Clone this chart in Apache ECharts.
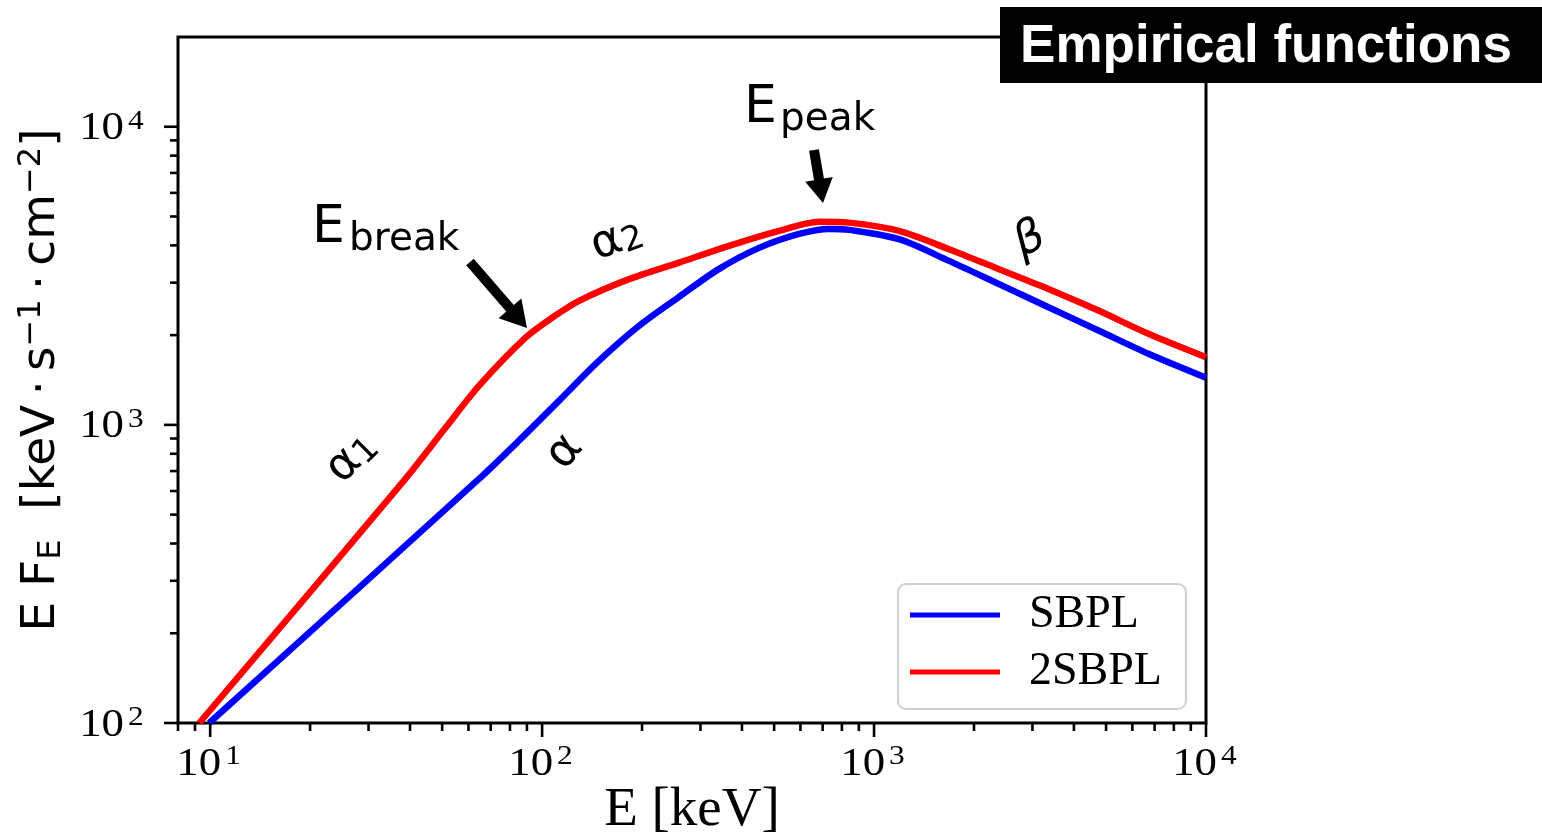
<!DOCTYPE html>
<html>
<head>
<meta charset="utf-8">
<script src="https://cdn.jsdelivr.net/npm/echarts@6/dist/echarts.min.js"></script>
<style>html,body{margin:0;padding:0;background:#fff}#c{width:1542px;height:833px}</style>
</head>
<body>
<div id="c"></div>
<script>
// ---- data ----
const sbplE = [9.93, 63.8, 85.2, 112.5, 148.5, 196, 258.6, 341.4, 450.4, 594.5, 731.9, 841, 1189, 1682, 2379, 3366, 4761, 6734, 10000];
const sbplF = [100, 651, 886, 1206, 1642, 2150, 2688, 3336, 3924, 4370, 4543, 4508, 4195, 3548, 2966, 2476, 2069, 1729, 1440];
const twoE = [9.27, 38.4, 51.3, 64.6, 89.3, 107.4, 129.2, 182.8, 258.6, 365.8, 517.5, 683, 841, 1189, 1682, 2379, 3366, 4761, 6734, 10000];
const twoF = [100, 651, 981, 1354, 1965, 2291, 2607, 3083, 3503, 3985, 4472, 4804, 4768, 4472, 3884, 3329, 2853, 2414, 2017, 1687];
const seriesNames = ['SBPL', '2SBPL'];
const xMajorTicks = [10, 100, 1000, 10000];
const xTickExp = ['1', '2', '3', '4'];
const xMinorTicks = [8, 9, 20, 30, 40, 50, 60, 70, 80, 90, 200, 300, 400, 500, 600, 700, 800, 900, 2000, 3000, 4000, 5000, 6000, 7000, 8000, 9000];
const yMajorTicks = [100, 1000, 10000];
const yTickExp = ['2', '3', '4'];
const yMinorTicks = [200, 300, 400, 500, 600, 700, 800, 900, 2000, 3000, 4000, 5000, 6000, 7000, 8000, 9000];
const xRange = [8, 10000];
const yRange = [100, 20000];
const titleText = 'Empirical functions';
const xName = 'E [keV]';

const chart = echarts.init(document.getElementById('c'));

const serif = 'Liberation Serif';
const sans = 'DejaVu Sans';
const baseFont = '40px "Liberation Serif"';
const supFont = '28px "Liberation Serif"';
const SX = 1.12;

function xTickData() {
  const d = [];
  xMajorTicks.forEach((v, i) => d.push([v, yRange[0], 1, i]));
  xMinorTicks.forEach(v => d.push([v, yRange[0], 0, -1]));
  return d;
}
function yTickData() {
  const d = [];
  yMajorTicks.forEach((v, i) => d.push([xRange[0], v, 1, i]));
  yMinorTicks.forEach(v => d.push([xRange[0], v, 0, -1]));
  return d;
}

function renderXTick(params, api) {
  const cs = params.coordSys;
  const x = api.coord([api.value(0), yRange[0]])[0];
  const major = api.value(2);
  const y0 = cs.y + cs.height;
  const len = major ? 14 : 8;
  const ch = [{ type: 'line', shape: { x1: x, y1: y0, x2: x, y2: y0 + len }, style: { stroke: '#000', lineWidth: 2.6 } }];
  if (major) {
    const exp = xTickExp[api.value(3)];
    ch.push({ type: 'text', x: x + 11, y: y0 + 41, scaleX: SX, style: { text: '10', font: baseFont, fill: '#000', align: 'right', verticalAlign: 'middle' } });
    ch.push({ type: 'text', x: x + 15, y: y0 + 34, scaleX: SX, style: { text: exp, font: supFont, fill: '#000', align: 'left', verticalAlign: 'middle' } });
  }
  return { type: 'group', children: ch };
}
function renderYTick(params, api) {
  const cs = params.coordSys;
  const y = api.coord([xRange[0], api.value(1)])[1];
  const major = api.value(2);
  const x0 = cs.x;
  const len = major ? 14 : 8;
  const ch = [{ type: 'line', shape: { x1: x0 - len, y1: y, x2: x0, y2: y }, style: { stroke: '#000', lineWidth: 2.6 } }];
  if (major) {
    const exp = yTickExp[api.value(3)];
    ch.push({ type: 'text', x: x0 - 54, y: y + 2, scaleX: SX, style: { text: '10', font: baseFont, fill: '#000', align: 'right', verticalAlign: 'middle' } });
    ch.push({ type: 'text', x: x0 - 50, y: y - 5, scaleX: SX, style: { text: exp, font: supFont, fill: '#000', align: 'left', verticalAlign: 'middle' } });
  }
  return { type: 'group', children: ch };
}

function arrowPts(x1, y1, x2, y2, sw, hw, hl) {
  const dx = x2 - x1, dy = y2 - y1, L = Math.hypot(dx, dy);
  const ux = dx / L, uy = dy / L, px = -uy, py = ux;
  const bx = x2 - ux * hl, by = y2 - uy * hl;
  return [
    [x1 + px * sw / 2, y1 + py * sw / 2], [bx + px * sw / 2, by + py * sw / 2],
    [bx + px * hw / 2, by + py * hw / 2], [x2, y2],
    [bx - px * hw / 2, by - py * hw / 2], [bx - px * sw / 2, by - py * sw / 2],
    [x1 - px * sw / 2, y1 - py * sw / 2]
  ];
}

const annRich = {
  m: { fontFamily: sans, fontSize: 46, color: '#000', fill: '#000' },
  d: { fontFamily: sans, fontSize: 34, color: '#000', fill: '#000', verticalAlign: 'bottom', lineHeight: 36 }
};

const option = {
  animation: false,
  backgroundColor: '#fff',
  grid: { left: 178, right: 336, top: 37, bottom: 110, containLabel: false, outerBoundsMode: 'none',
    show: true, borderColor: '#000', borderWidth: 3, backgroundColor: 'transparent' },
  xAxis: {
    type: 'log', logBase: 10, min: xRange[0], max: xRange[1],
    axisLine: { show: false }, axisTick: { show: false }, axisLabel: { show: false }, splitLine: { show: false },
    name: xName, nameLocation: 'middle', nameGap: 60,
    nameTextStyle: { fontFamily: serif, fontSize: 55, color: '#000' }
  },
  yAxis: {
    type: 'log', logBase: 10, min: yRange[0], max: yRange[1],
    axisLine: { show: false }, axisTick: { show: false }, axisLabel: { show: false }, splitLine: { show: false },
    name: '{n|E F}{sub|E}{n|  [keV\u2009·\u2009s}{sup|\u22121}{n|\u2009·\u2009cm}{sup|\u22122}{n|]}',
    nameLocation: 'middle', nameRotate: 90, nameGap: 110,
    nameTextStyle: {
      rich: {
        n: { fontFamily: sans, fontSize: 47, lineHeight: 52, color: '#000' },
        sub: { fontFamily: sans, fontSize: 32, lineHeight: 31, verticalAlign: 'bottom', color: '#000' },
        sup: { fontFamily: sans, fontSize: 32, lineHeight: 22, verticalAlign: 'top', color: '#000' }
      }
    }
  },
  legend: {
    orient: 'vertical', left: 898, top: 584,
    data: seriesNames, icon: 'rect', itemWidth: 90, itemHeight: 5, itemGap: 11,
    padding: [8, 24, 14, 12],
    borderColor: '#d0d0d0', borderWidth: 2, borderRadius: 8, backgroundColor: '#fff',
    textStyle: { fontFamily: serif, fontSize: 46, lineHeight: 44, color: '#000', padding: [0, 0, 0, 24] }
  },
  series: [
    { type: 'custom', renderItem: renderXTick, data: xTickData(), encode: { x: 0, y: 1 }, clip: false, silent: true, z: 5 },
    { type: 'custom', renderItem: renderYTick, data: yTickData(), encode: { x: 0, y: 1 }, clip: false, silent: true, z: 5 },
    { name: seriesNames[0], type: 'line', data: sbplE.map((e, i) => [e, sbplF[i]]), showSymbol: false, smooth: 0.3,
      lineStyle: { color: '#0000ff', width: 6.5 }, itemStyle: { color: '#0000ff' }, z: 3 },
    { name: seriesNames[1], type: 'line', data: twoE.map((e, i) => [e, twoF[i]]), showSymbol: false, smooth: 0.3,
      lineStyle: { color: '#ff0000', width: 6.5 }, itemStyle: { color: '#ff0000' }, z: 4 }
  ],
  graphic: [
    { type: 'polygon', shape: { points: arrowPts(470, 262, 527, 328, 10, 30, 26) }, style: { fill: '#000' }, z: 10 },
    { type: 'polygon', shape: { points: arrowPts(814, 150, 823, 203, 10, 28, 24) }, style: { fill: '#000' }, z: 10 },
    { type: 'text', x: 312, y: 228, style: { text: 'E', font: '52px "DejaVu Sans"', fill: '#000', verticalAlign: 'middle' }, z: 10 },
    { type: 'text', x: 349, y: 240, style: { text: 'break', font: '39px "DejaVu Sans"', fill: '#000', verticalAlign: 'middle' }, z: 10 },
    { type: 'text', x: 744, y: 108, style: { text: 'E', font: '52px "DejaVu Sans"', fill: '#000', verticalAlign: 'middle' }, z: 10 },
    { type: 'text', x: 780, y: 120, style: { text: 'peak', font: '39px "DejaVu Sans"', fill: '#000', verticalAlign: 'middle' }, z: 10 },
    { type: 'text', x: 352, y: 458, rotation: Math.PI / 4, style: { text: '{m|α}{d|1}', rich: annRich, align: 'center', verticalAlign: 'middle' }, z: 10 },
    { type: 'text', x: 617, y: 240, rotation: Math.PI / 9, style: { text: '{m|α}{d|2}', rich: annRich, align: 'center', verticalAlign: 'middle' }, z: 10 },
    { type: 'text', x: 565, y: 452, rotation: Math.PI * 0.28, style: { text: '{m|α}', rich: annRich, align: 'center', verticalAlign: 'middle' }, z: 10 },
    { type: 'text', x: 1030, y: 240, rotation: Math.PI / 7, style: { text: 'β', font: 'italic 46px "DejaVu Sans"', fill: '#000', align: 'center', verticalAlign: 'middle' }, z: 10 },
    { type: 'rect', shape: { x: 1000, y: 7, width: 542, height: 76 }, style: { fill: '#000' }, z: 20 },
    { type: 'text', x: 1266, y: 47, style: { text: titleText, font: 'bold 53px "Liberation Sans"', fill: '#fff', align: 'center', verticalAlign: 'middle' }, z: 21 }
  ]
};
chart.setOption(option);
</script>
</body>
</html>
